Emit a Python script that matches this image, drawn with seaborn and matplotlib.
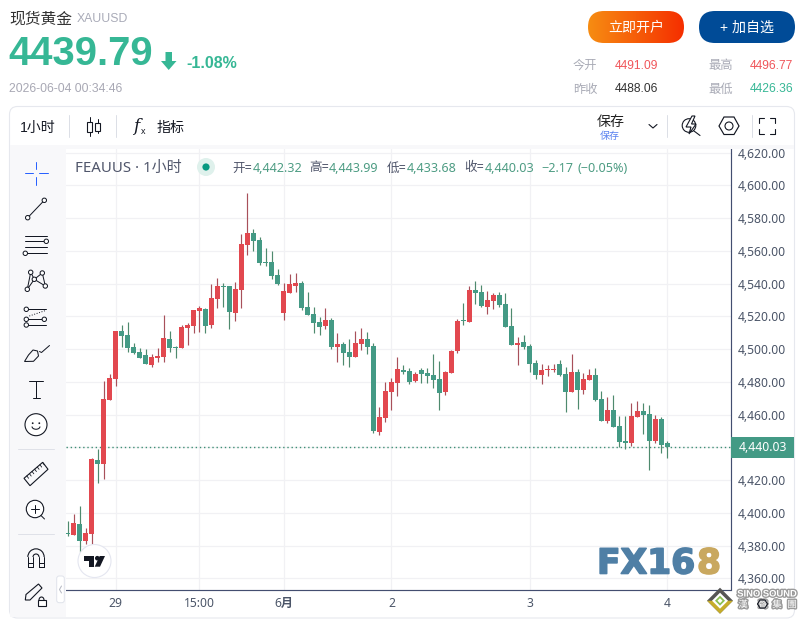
import numpy as np
import pandas as pd
import seaborn as sns
import matplotlib
matplotlib.use("Agg")
import matplotlib.pyplot as plt
from matplotlib.patches import FancyBboxPatch, Circle, Polygon, Rectangle, Arc
from matplotlib.colors import LinearSegmentedColormap
import matplotlib.patheffects as pe

# ---------- data ----------
opens = [4387.9,4386.4,4393.2,4382.8,4387.1,4432.3,4429.8,4468.8,4481.7,4511.0,
         4508.5,4501.2,4498.1,4496.3,4490.2,4494.5,4495.1,4506.1,4501.2,4500.6,
         4512.8,4514.0,4523.2,4524.4,4514.6,4530.5,4538.5,4538.5,4522.0,4536.0,
         4563.5,4570.8,4566.6,4553.1,4553.1,4545.2,4522.0,4534.2,4538.5,4540.4,
         4525.7,4521.4,4516.5,4514.1,4517.8,4501.3,4503.1,4498.2,4495.2,4503.1,
         4506.1,4501.9,4449.3,4457.9,4473.8,4479.3,4487.2,4486.6,4480.5,4487.2,
         4485.4,4484.2,4481.7,4473.8,4485.4,4498.8,4517.8,4516.5,4536.1,4534.9,
         4525.7,4529.4,4533.0,4527.5,4514.1,4502.4,4504.3,4501.8,4491.4,4484.1,
         4487.2,4487.2,4490.8,4484.7,4473.7,4485.9,4474.9,4481.1,4484.1,4469.4,
         4456.0,4462.7,4453.0,4443.8,4442.6,4458.5,4462.1,4460.3,4443.8,4457.2,
         4442.32]
highs = [4395.0,4399.3,4404.2,4390.7,4433.5,4439.0,4480.4,4484.7,4511.0,4514.6,
         4516.5,4503.6,4500.6,4500.0,4496.9,4500.6,4520.7,4511.0,4501.8,4514.6,
         4515.9,4523.8,4526.2,4525.0,4539.7,4543.3,4540.3,4538.5,4540.9,4570.2,
         4595.3,4573.3,4568.4,4561.7,4559.8,4548.8,4540.4,4545.8,4546.5,4541.6,
         4534.9,4525.7,4519.6,4525.1,4519.0,4509.8,4504.3,4506.1,4511.0,4512.9,
         4510.4,4503.7,4464.6,4479.9,4482.3,4495.2,4490.3,4488.4,4486.0,4488.4,
         4488.4,4497.0,4492.7,4486.6,4499.4,4518.4,4528.1,4538.5,4541.6,4539.1,
         4535.5,4534.2,4534.9,4534.2,4525.1,4507.3,4508.5,4503.0,4493.3,4490.8,
         4490.2,4490.8,4493.3,4489.0,4496.9,4487.8,4485.3,4487.8,4488.4,4474.3,
         4470.7,4471.9,4459.1,4459.1,4467.0,4468.2,4467.0,4465.8,4459.7,4458.5,
         4443.99]
lows = [4386.0,4386.4,4376.1,4380.9,4380.9,4418.2,4420.6,4468.8,4477.4,4501.4,
        4498.1,4496.9,4494.5,4490.8,4489.0,4492.0,4492.0,4498.1,4494.5,4500.6,
        4502.4,4509.7,4510.4,4509.7,4512.8,4525.0,4525.6,4512.2,4517.1,4525.0,
        4557.4,4559.8,4551.3,4550.7,4542.7,4539.1,4517.8,4534.2,4534.9,4523.9,
        4520.8,4509.8,4508.6,4512.3,4500.0,4492.1,4490.3,4489.0,4495.2,4499.4,
        4497.0,4448.7,4447.5,4455.4,4462.8,4471.3,4484.8,4478.7,4479.9,4479.3,
        4479.3,4476.2,4462.8,4471.9,4485.4,4497.6,4514.7,4516.5,4527.5,4525.7,
        4521.4,4524.5,4525.7,4513.5,4502.4,4490.2,4500.0,4485.9,4481.7,4478.6,
        4483.5,4485.9,4483.5,4461.5,4473.7,4463.3,4472.5,4481.1,4468.2,4456.0,
        4454.8,4452.3,4440.1,4438.9,4440.7,4458.5,4448.1,4426.1,4442.6,4436.5,
        4433.68]
closes = [4387.1,4393.8,4382.8,4387.7,4432.9,4429.8,4469.4,4482.3,4511.0,4507.9,
          4500.6,4497.5,4494.5,4490.8,4495.1,4495.7,4506.7,4500.6,4500.6,4513.4,
          4514.6,4523.8,4525.0,4514.0,4531.1,4538.5,4537.8,4522.6,4536.6,4564.1,
          4570.8,4565.9,4552.5,4552.5,4544.6,4539.7,4535.5,4539.7,4540.4,4525.1,
          4520.8,4515.9,4513.5,4517.8,4501.3,4503.1,4497.6,4495.2,4503.7,4506.1,
          4501.3,4449.9,4458.5,4474.4,4479.9,4487.8,4486.0,4479.9,4484.8,4484.8,
          4483.5,4481.1,4473.2,4486.0,4498.8,4517.1,4517.1,4536.1,4534.2,4526.3,
          4530.0,4533.0,4526.9,4513.5,4502.4,4503.7,4501.2,4490.8,4484.1,4487.2,
          4487.8,4487.8,4484.1,4473.7,4485.9,4474.9,4481.7,4484.1,4468.8,4456.0,
          4462.7,4452.3,4443.2,4442.6,4459.1,4462.1,4459.7,4443.8,4457.2,4441.4,
          4440.03]
y_ticks = [4360,4380,4400,4420,4440,4460,4480,4500,4520,4540,4560,4580,4600,4620]
x_tick_bars = [8,22,36,54,77,100]
x_tick_labels = ["29","15:00","6月","2","3","4"]
last_price = 4440.03

RED, GREEN = "#e2484f", "#449a85"
RED_W, GREEN_W = "#a8505a", "#4e8a6e"
INK = "#131722"
AXC = "#434e70"
LBL = "#4b5568"
TEAL = "#36b795"

W, H = 806, 621
sns.set_theme(style="white")
plt.rcParams["font.family"] = ["Liberation Sans", "Noto Sans CJK SC", "DejaVu Sans"]
NOTO = ["Noto Sans", "Noto Sans CJK SC", "DejaVu Sans"]

fig = plt.figure(figsize=(W/100, H/100), dpi=100, facecolor="white")
L, R, T_, B = 66.0, 730.5, 149.0, 590.3
ax = fig.add_axes([L/W, 1-B/H, (R-L)/W, (B-T_)/H], zorder=1)

df = pd.DataFrame({"bar": range(len(opens)), "open": opens, "high": highs, "low": lows, "close": closes})
df["body"] = (df["close"]-df["open"]).abs().clip(lower=0.6)
df["base"] = df[["open", "close"]].min(axis=1)
df["up"] = df["close"] > df["open"]
up, down = df[df["up"]], df[~df["up"]]

ax.vlines(up["bar"], up["low"], up["high"], color=RED_W, lw=0.85, zorder=2)
ax.vlines(down["bar"], down["low"], down["high"], color=GREEN_W, lw=0.85, zorder=2)
sns.barplot(data=up, x="bar", y="body", native_scale=True, bottom=up["base"].values, color=RED,
            saturation=1, width=0.83, errorbar=None, linewidth=0, ax=ax, zorder=3)
sns.barplot(data=down, x="bar", y="body", native_scale=True, bottom=down["base"].values, color=GREEN,
            saturation=1, width=0.83, errorbar=None, linewidth=0, ax=ax, zorder=3)

ax.set_xlim((L-67.5)/6, (R-67.5)/6)
ax.set_ylim(4600-(B-185.3)*0.6107, 4600-(T_-185.3)*0.6107)
ax.axhline(last_price, color="#3f8f75", lw=1.0, dashes=(1, 2), zorder=1.5)
ax.set_xlabel(""); ax.set_ylabel("")
ax.yaxis.tick_right()
ax.set_yticks(y_ticks)
ax.set_yticklabels([f"{v:,.2f}" for v in y_ticks], fontsize=8.7, color=LBL, family=NOTO)
ax.set_xticks(x_tick_bars)
ax.set_xticklabels(x_tick_labels, fontsize=8.7, color=LBL, family=NOTO)
ax.get_xticklabels()[2].set_fontweight("bold")
ax.tick_params(axis="both", length=0)
ax.tick_params(axis="y", pad=5)
ax.tick_params(axis="x", pad=4.5)
ax.grid(True, color="#f1f1f4", lw=0.9)
ax.set_axisbelow(True)
for s in ["top", "left"]:
    ax.spines[s].set_visible(False)
for s in ["right", "bottom"]:
    ax.spines[s].set_visible(True)
    ax.spines[s].set_color(AXC)
    ax.spines[s].set_linewidth(0.85)

# ---------- interface overlay, in pixel coordinates ----------
fg = fig.add_axes([0, 0, 1, 1], zorder=5)
fg.patch.set_visible(False)
fg.axis("off")

def text(x, y, s, px=12, c=INK, ha="left", va="center", **k):
    return fg.text(x, y+1, s, fontsize=px*0.72, color=c, ha=ha, va=va, **k)

def line(xs, ys, c=INK, lw=1.0, **k):
    fg.plot(xs, ys, color=c, lw=lw*0.72, solid_capstyle="round", **k)

def dot(x, y, r=2.2, c=INK, fc="white", lw=1.0):
    fg.add_patch(Circle((x, y), r, fc=fc, ec=c, lw=lw*0.72, zorder=6))

def rbox(x0, y0, x1, y1, r, **k):
    p = FancyBboxPatch((x0+r, y0+r), x1-x0-2*r, y1-y0-2*r, boxstyle=f"round,pad={r},rounding_size={r}", **k)
    fg.add_patch(p)
    return p

# panel and bands
rbox(9.5, 106.5, 794.5, 618, 8, fc="none", ec="#e6e8ee", lw=0.8)
fg.add_patch(Rectangle((10, 145), 784, 4, fc="#f8f8fa", ec="none"))
fg.add_patch(Rectangle((10, 149), 56, 468, fc="#f8f8fa", ec="none"))
for x in [69, 116, 667, 752]:
    line([x, x], [115, 137], c="#dcdfe6", lw=1)

# header
text(9, 18, "现货黄金", 15.8, "#333333")
text(77, 18.5, "XAUUSD", 12.2, "#a9abb8")
text(8.5, 53, "4439.79", 40, TEAL, weight="bold")
fg.add_patch(Polygon([(165.5, 52), (172, 52), (172, 61), (176.5, 61), (168.7, 70), (161, 61), (165.5, 61)], fc=TEAL, ec="none"))
text(186, 62, "-1.08%", 16, TEAL, weight="bold")
text(9, 88.5, "2026-06-04 00:34:46", 12.2, "#a8a8b4")

# buttons
cmap = LinearSegmentedColormap.from_list("btn", ["#f78c12", "#f52f00"])
b1 = rbox(588, 11, 684, 43, 16, fc="none", ec="none")
im = fg.imshow(np.linspace(0, 1, 64).reshape(1, -1), extent=(588, 684, 43, 11), cmap=cmap, aspect="auto", zorder=2)
im.set_clip_path(b1)
rbox(699, 11, 795, 43, 16, fc="#004b97", ec="none")
text(636, 27, "立即开户", 14, "white", ha="center", zorder=3)
text(747, 27, "+ 加自选", 14, "white", ha="center", zorder=3)

# quote table
for x, y, s in [(573, 65, "今开"), (708, 65, "最高"), (573, 88.5, "昨收"), (708, 88.5, "最低")]:
    text(x, y, s, 12.3, "#a9abb6")
text(615, 65, "4491.09", 12, "#f0555a")
text(750, 65, "4496.77", 12, "#f0555a")
text(615, 88.5, "4488.06", 12, "#333333")
text(750, 88.5, "4426.36", 12, TEAL)

# top toolbar
text(20, 127, "1小时", 14, INK)
line([89.5, 89.5], [117, 136]); fg.add_patch(Rectangle((87, 122), 5, 10, fc="white", ec=INK, lw=0.8, zorder=6))
line([97.7, 97.7], [119, 133]); fg.add_patch(Rectangle((95.3, 122.5), 4.8, 8, fc="white", ec=INK, lw=0.8, zorder=6))
text(133, 125.5, "f", 17, INK, style="italic", family="DejaVu Serif")
text(140.5, 131, "x", 9, INK)
text(157, 127, "指标", 14, INK)
text(597, 121, "保存", 14, "#222222")
text(610, 135.5, "保存", 10, "#5b82f0", ha="center")
line([649, 653, 657], [124.5, 128, 124.5], lw=1.1)
dot(689, 125.5, 6.8, lw=1.1)
fg.add_patch(Polygon([(692, 116), (686, 127), (691, 127), (689, 134), (696, 124), (691.5, 124), (695, 116)], fc="white", ec=INK, lw=0.8, zorder=7))
line([694, 700], [131, 135.5], lw=1.1)
fg.add_patch(Polygon([(719, 126), (724, 117), (734, 117), (739, 126), (734, 134.5), (724, 134.5)], fc="none", ec=INK, lw=0.85))
dot(729, 126, 4, lw=1.1)
for sx, sy in [(-1, -1), (1, -1), (-1, 1), (1, 1)]:
    cx, cy = 767+sx*8, 126+sy*8
    line([cx, cx, cx-sx*5], [cy-sy*5, cy, cy], lw=1.1)

# left toolbar
B_ = "#2962ff"
line([25, 32.7], [173.3, 173.3], B_); line([39.3, 48], [173.3, 173.3], B_)
line([36, 36], [162, 169.3], B_); line([36, 36], [177.3, 185], B_)
line([27.7, 44.3], [217.7, 200.3]); dot(27.7, 217.7); dot(44.3, 200.3)
for y in [235.7, 241.3, 247.3, 253.3]:
    line([25, 47], [y, y])
dot(46.3, 241.3); dot(25.3, 253.3)
px_ = [(27.3, 289.3), (30.7, 272.3), (34.3, 279.3), (42.3, 273), (45.3, 286)]
line([p[0] for p in px_+[px_[2], px_[0]]], [p[1] for p in px_+[px_[2], px_[0]]])
for p in px_:
    dot(*p)
for y in [309.3, 319.3, 325]:
    line([26, 46], [y, y])
    dot(26.3, y)
dot(44.3, 319.3)
fg.plot([29.3, 45], [316, 310.7], color=INK, lw=0.7, ls=":")
fg.add_patch(Polygon([(24.5, 361.5), (33.5, 361.3), (38.5, 356), (37.5, 351), (33, 350), (28.5, 355)], fc="none", ec=INK, lw=0.75))
line([39.5, 41.5, 49.5], [351.5, 352.5, 345.5])
line([29.3, 43.3], [380.5, 380.5]); line([36.3, 36.3], [380.5, 397.7]); line([33, 39.5], [397.7, 397.7])
dot(36, 424.7, 11, lw=1.1)
fg.add_patch(Circle((32.7, 423.2), 0.9, fc=INK, ec="none", zorder=7)); fg.add_patch(Circle((39.3, 423.2), 0.9, fc=INK, ec="none", zorder=7))
fg.add_patch(Arc((36, 426.5), 8, 5.5, theta1=0, theta2=180, ec=INK, lw=0.75, zorder=7))
for y in [449.3, 534.3]:
    line([18, 54], [y, y], c="#dfe1e8")
rul = [(24, 478.3), (42.7, 462.3), (48, 469.3), (30, 485.7)]
fg.add_patch(Polygon(rul, fc="none", ec=INK, lw=0.8))
for t in np.arange(0.15, 1, 0.14):
    xa, ya = 24+18.7*t, 478.3-16*t
    line([xa, xa+1.8], [ya, ya+2.4], lw=0.8)
dot(35, 499+10, 8.7, lw=1.1)
line([31, 39], [509, 509], zorder=7); line([35, 35], [505, 513], zorder=7); line([41, 44.5], [515.5, 519])
fg.add_patch(Arc((36, 557), 16.3, 16.3, theta1=180, theta2=360, ec=INK, lw=0.8))
fg.add_patch(Arc((36, 557), 6, 6, theta1=180, theta2=360, ec=INK, lw=0.8))
for x in [27.8, 44.2, 33, 39]:
    line([x, x], [557, 567.3])
line([27.8, 33], [567.3, 567.3]); line([39, 44.2], [567.3, 567.3]); line([27.8, 33], [562.5, 562.5]); line([39, 44.2], [562.5, 562.5])
fg.add_patch(Polygon([(25.3, 600), (26, 594.5), (38.5, 584), (42, 588), (30, 600)], fc="none", ec=INK, lw=0.8))
fg.add_patch(Rectangle((37.5, 600), 8, 6, fc="white", ec=INK, lw=0.8, zorder=7))
fg.add_patch(Arc((41.5, 600), 5, 6, theta1=180, theta2=360, ec=INK, lw=0.8, zorder=7))
rbox(56.7, 576, 64.3, 602.7, 2.5, fc="white", ec="#e0e3eb", lw=0.7)
line([61.5, 59.5, 61.5], [586, 589.5, 593], c="#b4b7c2")

# legend line
text(75, 167, "FEAUUS · 1小时", 15, "#50566b", family=NOTO)
fg.add_patch(Circle((206, 167), 9, fc="#dff1ec", ec="none"))
fg.add_patch(Circle((206, 167), 3.6, fc="#089981", ec="none", zorder=6))
GT = "#4d9c83"
for x, s in [(232, "开="), (309, "高="), (386.5, "低="), (464, "收=")]:
    text(x, 167, s, 12.6, "#50566b", family=NOTO)
for x, s in [(252.3, "4,442.32"), (329, "4,443.99"), (406.7, "4,433.68"), (484.3, "4,440.03"),
             (541, "−2.17"), (577, "(−0.05%)")]:
    text(x, 167, s, 12.6, GT, family=NOTO)

# last price tag
fg.add_patch(Rectangle((731, 437), 63, 21, fc="#439a85", ec="none", zorder=6))
text(762.5, 446.3, "4,440.03", 12.2, "white", ha="center", family=NOTO, weight="bold", zorder=7)

# TradingView badge
fg.add_patch(Circle((94.5, 561), 16.5, fc="white", ec="#e4e6f0", lw=0.8, zorder=6))
for poly in ([(84, 556), (94, 556), (94, 566.7), (89, 566.7), (89, 560.6), (84, 560.6)],
             [(105, 556), (100, 566.7), (94.7, 566.7), (99.7, 556)]):
    fg.add_patch(Polygon(poly, fc=INK, ec="none", zorder=7))
fg.add_patch(Circle((97.3, 558.2), 2.3, fc=INK, ec="none", zorder=7))

# watermark
heavy = [pe.withStroke(linewidth=1.2, foreground="#4f7fa5")]
heavy2 = [pe.withStroke(linewidth=1.2, foreground="#c9a85f")]
text(597, 563, "FX16", 34.5, "#4f7fa5", weight="bold", family="DejaVu Sans", path_effects=heavy, zorder=8)
text(697, 563, "8", 34.5, "#c9a85f", weight="bold", family="DejaVu Sans", path_effects=heavy2, zorder=8)
dia = lambda h: [(720, 600.7-h), (720+h, 600.7), (720, 600.7+h), (720-h, 600.7)]
fg.add_patch(Polygon(dia(13), fc="#555555", ec="none", zorder=8))
fg.add_patch(Polygon([(707, 600.7), (720, 613.7), (733, 600.7), (727, 600.7), (720, 607.7), (713, 600.7)], fc="#c6ad2a", ec="none", zorder=9))
fg.add_patch(Polygon(dia(8), fc="white", ec="none", zorder=9))
fg.add_patch(Polygon(dia(5), fc="#8cc152", ec="none", zorder=9))
fg.add_patch(Polygon(dia(2.5), fc="white", ec="none", zorder=9))
halo = [pe.withStroke(linewidth=2, foreground="#9a9a9a")]
text(767, 593, "SINO SOUND", 9.4, "white", ha="center", weight="bold", path_effects=halo, zorder=9)
for x, s in [(743, "漢"), (763, "聲"), (777, "集"), (792, "團")]:
    text(x, 604, s, 9.5, "white", ha="center", path_effects=halo, zorder=9)
fg.add_patch(Polygon([(757.5, 604), (760, 600), (765, 600), (767.5, 604), (765, 608), (760, 608)], fc="none", ec=INK, lw=0.8, zorder=10))

fg.set_xlim(0, W)
fg.set_ylim(H, 0)
fig.savefig("out.png", dpi=100, facecolor="white")
